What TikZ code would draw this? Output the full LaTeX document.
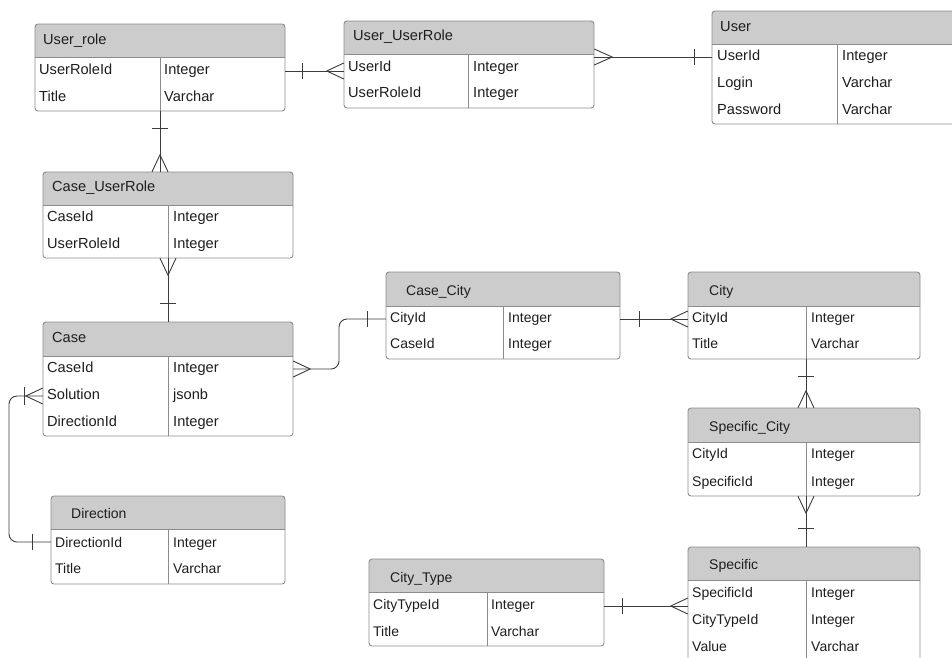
\documentclass[tikz,border=0pt]{standalone}
\usepackage{fontspec}
\setmainfont{Liberation Sans}
\usetikzlibrary{fit}
\definecolor{headfill}{HTML}{CCCCCC}
\definecolor{bordercol}{HTML}{8C8C8C}
\definecolor{linecol}{HTML}{3C3C3C}
\definecolor{txtcol}{HTML}{1E1E1E}
\newcommand\erfont{\fontsize{14}{16}\selectfont}
\tikzset{
  tabline/.style={draw=bordercol, line width=0.9pt},
  conn/.style={draw=linecol, line width=0.9pt},
  rowtxt/.style={anchor=west, inner sep=0pt, text height=10pt, text depth=0pt,
    font=\erfont, text=txtcol},
}
% name, left, top, right, header bottom, bottom, divider
\newcommand\erbox[7]{%
  \node[fit={(#2,#3) (#4,#6)}, inner sep=0pt, fill=white, draw=none] (#1) {};
  \begin{scope}
    \clip (#2,#3) rectangle (#4,#5);
    \fill[headfill, rounded corners=3pt] (#2,#3) rectangle (#4,#6);
  \end{scope}
  \draw[tabline] (#2,#5) -- (#4,#5);
  \draw[tabline] (#7,#5) -- (#7,#6);
  \draw[tabline, rounded corners=3pt] (#2,#3) rectangle (#4,#6);
}
\newcommand\ertxt[4]{\node[rowtxt] (#1) at (#2,#3) {#4};}
\begin{document}
\begin{tikzpicture}[x=1pt,y=-1pt]
\useasboundingbox (0,0) rectangle (952,657);
\clip (0,0) rectangle (952,657);
\fill[white] (0,0) rectangle (952,657);

% ---------- tables (upper group, slightly larger type) ----------
\begin{scope}
\renewcommand\erfont{\fontsize{14.6}{17}\selectfont}
\erbox{userrole}{35}{24}{285}{57}{111}{160}
\ertxt{userrole-h}{43}{39}{User\_role}
\ertxt{userrole-1n}{39}{69}{UserRoleId}
\ertxt{userrole-1t}{164}{69}{Integer}
\ertxt{userrole-2n}{39}{96}{Title}
\ertxt{userrole-2t}{164}{96}{Varchar}

\erbox{uur}{344}{21}{594}{54}{108}{468}
\ertxt{uur-h}{353}{35}{User\_UserRole}
\ertxt{uur-1n}{348}{66}{UserId}
\ertxt{uur-1t}{473}{66}{Integer}
\ertxt{uur-2n}{348}{92}{UserRoleId}
\ertxt{uur-2t}{473}{92}{Integer}

\erbox{user}{712}{11}{962}{44}{124}{837}
\ertxt{user-h}{720}{26}{User}
\ertxt{user-1n}{717}{55}{UserId}
\ertxt{user-1t}{842}{55}{Integer}
\ertxt{user-2n}{717}{82}{Login}
\ertxt{user-2t}{842}{82}{Varchar}
\ertxt{user-3n}{717}{109}{Password}
\ertxt{user-3t}{842}{109}{Varchar}

\erbox{cur}{43}{172}{293}{205}{258}{168}
\ertxt{cur-h}{52}{186}{Case\_UserRole}
\ertxt{cur-1n}{47}{216}{CaseId}
\ertxt{cur-1t}{173}{216}{Integer}
\ertxt{cur-2n}{47}{243}{UserRoleId}
\ertxt{cur-2t}{173}{243}{Integer}

\erbox{case}{43}{322}{293}{356}{436}{168}
\ertxt{case-h}{52}{337}{Case}
\ertxt{case-1n}{47}{367}{CaseId}
\ertxt{case-1t}{173}{367}{Integer}
\ertxt{case-2n}{47}{394}{Solution}
\ertxt{case-2t}{173}{394}{jsonb}
\ertxt{case-3n}{47}{421}{DirectionId}
\ertxt{case-3t}{173}{421}{Integer}
\end{scope}

% ---------- tables (lower group) ----------
\erbox{casecity}{386}{272}{620}{306}{359}{503}
\ertxt{casecity-h}{406}{290}{Case\_City}
\ertxt{casecity-1n}{390}{317}{CityId}
\ertxt{casecity-1t}{508}{317}{Integer}
\ertxt{casecity-2n}{390}{343}{CaseId}
\ertxt{casecity-2t}{508}{343}{Integer}

\erbox{city}{688}{272}{920}{306}{359}{806}
\ertxt{city-h}{709}{290}{City}
\ertxt{city-1n}{692}{317}{CityId}
\ertxt{city-1t}{811}{317}{Integer}
\ertxt{city-2n}{692}{343}{Title}
\ertxt{city-2t}{811}{343}{Varchar}

\erbox{scity}{688}{408}{920}{442}{496}{806}
\ertxt{scity-h}{709}{426}{Specific\_City}
\ertxt{scity-1n}{692}{453}{CityId}
\ertxt{scity-1t}{811}{453}{Integer}
\ertxt{scity-2n}{692}{481}{SpecificId}
\ertxt{scity-2t}{811}{481}{Integer}

\erbox{specific}{688}{547}{920}{580}{672}{806}
\ertxt{specific-h}{709}{564}{Specific}
\ertxt{specific-1n}{692}{592}{SpecificId}
\ertxt{specific-1t}{811}{592}{Integer}
\ertxt{specific-2n}{692}{619}{CityTypeId}
\ertxt{specific-2t}{811}{619}{Integer}
\ertxt{specific-3n}{692}{646}{Value}
\ertxt{specific-3t}{811}{646}{Varchar}

\erbox{citytype}{369}{559}{604}{592}{646}{487}
\ertxt{citytype-h}{390}{577}{City\_Type}
\ertxt{citytype-1n}{373}{604}{CityTypeId}
\ertxt{citytype-1t}{491}{604}{Integer}
\ertxt{citytype-2n}{373}{631}{Title}
\ertxt{citytype-2t}{491}{631}{Varchar}

\erbox{direction}{51}{496}{285}{529}{584}{168}
\ertxt{direction-h}{71}{513}{Direction}
\ertxt{direction-1n}{55}{542}{DirectionId}
\ertxt{direction-1t}{173}{542}{Integer}
\ertxt{direction-2n}{55}{568}{Title}
\ertxt{direction-2t}{173}{568}{Varchar}

% ---------- connectors ----------
% User_role -- User_UserRole
\draw[conn] (userrole.east |- 0,71) coordinate (c1a) -- (uur.west |- 0,71) coordinate (c1b);
\draw[conn] (c1a) ++(17,-8) -- ++(0,16);
\draw[conn] (c1b) ++(0,-8) -- ++(-17,8) -- ++(17,8);

% User_UserRole -- User
\draw[conn] (uur.east |- 0,57) coordinate (c2a) -- (user.west |- 0,57) coordinate (c2b);
\draw[conn] (c2a) ++(0,-8) -- ++(18,8) -- ++(-18,8);
\draw[conn] (c2b) ++(-17,-8) -- ++(0,16);

% User_role -- Case_UserRole
\draw[conn] (userrole.south -| 160,0) coordinate (c3a) -- (cur.north -| 160,0) coordinate (c3b);
\draw[conn] (c3a) ++(-8,17) -- ++(16,0);
\draw[conn] (c3b) ++(-8,0) -- ++(8,-17) -- ++(8,17);

% Case_UserRole -- Case
\draw[conn] (cur.south -| 168,0) coordinate (c4a) -- (case.north -| 168,0) coordinate (c4b);
\draw[conn] (c4a) ++(-8,0) -- ++(8,17) -- ++(8,-17);
\draw[conn] (c4b) ++(-8,-18) -- ++(16,0);

% Case -- Case_City
\path (case.east |- 0,369) coordinate (c5a) (casecity.west |- 0,319) coordinate (c5b);
\draw[conn, rounded corners=8pt] (c5a) -- (339,369) -- (339,319) -- (c5b);
\draw[conn] (c5a) ++(0,-8) -- ++(17,8) -- ++(-17,8);
\draw[conn] (c5b) ++(-18,-8) -- ++(0,16);

% Case_City -- City
\draw[conn] (casecity.east |- 0,319) coordinate (c6a) -- (city.west |- 0,319) coordinate (c6b);
\draw[conn] (c6a) ++(19,-8) -- ++(0,16);
\draw[conn] (c6b) ++(0,-8) -- ++(-17,8) -- ++(17,8);

% City -- Specific_City
\draw[conn] (city.south -| 806,0) coordinate (c7a) -- (scity.north -| 806,0) coordinate (c7b);
\draw[conn] (c7a) ++(-8,17) -- ++(16,0);
\draw[conn] (c7b) ++(-8,0) -- ++(8,-17) -- ++(8,17);

% Specific_City -- Specific
\draw[conn] (scity.south -| 806,0) coordinate (c8a) -- (specific.north -| 806,0) coordinate (c8b);
\draw[conn] (c8a) ++(-8,0) -- ++(8,17) -- ++(8,-17);
\draw[conn] (c8b) ++(-8,-18) -- ++(16,0);

% City_Type -- Specific
\draw[conn] (citytype.east |- 0,606) coordinate (c9a) -- (specific.west |- 0,606) coordinate (c9b);
\draw[conn] (c9a) ++(18,-8) -- ++(0,16);
\draw[conn] (c9b) ++(0,-8) -- ++(-17,8) -- ++(17,8);

% Case -- Direction
\path (case.west |- 0,396) coordinate (c10a) (direction.west |- 0,542) coordinate (c10b);
\draw[conn, rounded corners=8pt] (c10a) -- (9,396) -- (9,542) -- (c10b);
\draw[conn] (c10a) ++(0,-8) -- ++(-17,8) -- ++(17,8);
\draw[conn] (c10a) ++(-18,-9) -- ++(0,18);
\draw[conn] (c10b) ++(-18,-8) -- ++(0,16);
\end{tikzpicture}
\end{document}
